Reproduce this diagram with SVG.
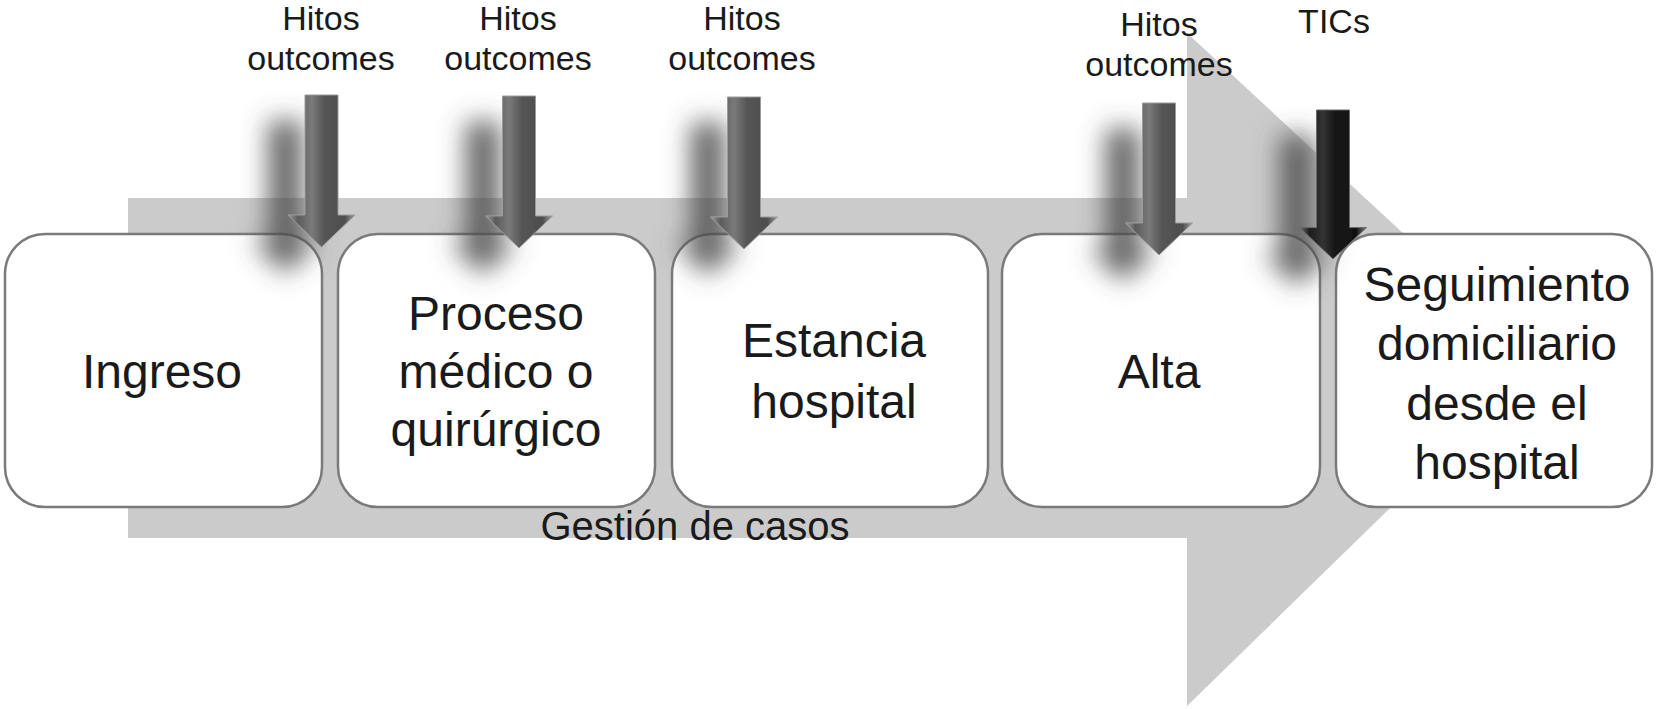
<svg xmlns="http://www.w3.org/2000/svg" width="1658" height="709" viewBox="0 0 1658 709">
<style>
  .box { fill: #ffffff; stroke: #7a7a7a; stroke-width: 2.5; }
  .t { font-family: "Liberation Sans", Arial, sans-serif; fill: #1a1a1a; text-anchor: middle; }
  .big { font-size: 48px; }
  .lbl { font-size: 34px; }
  .gc { font-size: 40px; }
  .ag { stroke: #9a9a9a; stroke-width: 1; }
  .ab { stroke: #6a6a6a; stroke-width: 1; }
</style>
<defs>
  <linearGradient id="gGray" x1="0" y1="0" x2="1" y2="0">
    <stop offset="0" stop-color="#9a9a9a"/>
    <stop offset="0.15" stop-color="#5c5c5c"/>
    <stop offset="0.35" stop-color="#7a7a7a"/>
    <stop offset="0.55" stop-color="#555555"/>
    <stop offset="0.85" stop-color="#4e4e4e"/>
    <stop offset="1" stop-color="#9c9c9c"/>
  </linearGradient>
  <linearGradient id="gBlack" x1="0" y1="0" x2="1" y2="0">
    <stop offset="0" stop-color="#777777"/>
    <stop offset="0.15" stop-color="#1c1c1c"/>
    <stop offset="0.35" stop-color="#333333"/>
    <stop offset="0.55" stop-color="#141414"/>
    <stop offset="0.85" stop-color="#111111"/>
    <stop offset="1" stop-color="#888888"/>
  </linearGradient>
  <filter id="sh" x="-300%" y="-40%" width="600%" height="180%">
    <feGaussianBlur in="SourceAlpha" stdDeviation="13"/>
    <feOffset dx="-36" dy="26" result="b"/>
    <feFlood flood-color="#4a4a4a" flood-opacity="0.85"/>
    <feComposite in2="b" operator="in" result="s"/>
    <feMerge><feMergeNode in="s"/><feMergeNode in="SourceGraphic"/></feMerge>
  </filter>
  <path id="arr" d="M -16.5 0 L 16.5 0 L 16.5 120 L 33.5 120 L 0 152 L -33.5 120 L -16.5 120 Z"/>
</defs>

<g id="background-arrow">
  <path d="M 128 198 L 1187 198 L 1187 33 L 1541 361 L 1187 706 L 1187 538 L 128 538 Z" fill="#cbcbcb"/>
</g>

<g id="node-ingreso">
  <rect class="box" x="5" y="234" width="317" height="273" rx="40" ry="40"/>
  <text class="t big" x="162" y="388">Ingreso</text>
</g>
<g id="node-proceso">
  <rect class="box" x="338" y="234" width="317" height="273" rx="40" ry="40"/>
  <text class="t big" x="496" y="330">Proceso</text>
  <text class="t big" x="496" y="388">médico o</text>
  <text class="t big" x="496" y="446">quirúrgico</text>
</g>
<g id="node-estancia">
  <rect class="box" x="672" y="234" width="316" height="273" rx="40" ry="40"/>
  <text class="t big" x="834" y="357">Estancia</text>
  <text class="t big" x="834" y="418">hospital</text>
</g>
<g id="node-alta">
  <rect class="box" x="1002" y="234" width="318" height="273" rx="40" ry="40"/>
  <text class="t big" x="1159" y="388">Alta</text>
</g>
<g id="node-seguimiento">
  <rect class="box" x="1336" y="234" width="316" height="273" rx="40" ry="40"/>
  <text class="t big" x="1497" y="301">Seguimiento</text>
  <text class="t big" x="1497" y="360">domiciliario</text>
  <text class="t big" x="1497" y="420">desde el</text>
  <text class="t big" x="1497" y="479">hospital</text>
</g>

<g id="label-gestion">
  <text class="t gc" x="695" y="540">Gestión de casos</text>
</g>

<g id="connectors">
  <g filter="url(#sh)">
    <use href="#arr" class="ag" transform="translate(321.5,95)" fill="url(#gGray)"/>
  </g>
  <g filter="url(#sh)">
    <use href="#arr" class="ag" transform="translate(519,96)" fill="url(#gGray)"/>
  </g>
  <g filter="url(#sh)">
    <use href="#arr" class="ag" transform="translate(744,97)" fill="url(#gGray)"/>
  </g>
  <g filter="url(#sh)">
    <use href="#arr" class="ag" transform="translate(1159,103)" fill="url(#gGray)"/>
  </g>
  <g filter="url(#sh)">
    <use href="#arr" class="ab" transform="translate(1333,110) scale(1,0.98)" fill="url(#gBlack)"/>
  </g>
</g>

<g id="labels-top">
  <text class="t lbl" x="321" y="30">Hitos</text>
  <text class="t lbl" x="321" y="70">outcomes</text>
  <text class="t lbl" x="518" y="30">Hitos</text>
  <text class="t lbl" x="518" y="70">outcomes</text>
  <text class="t lbl" x="742" y="30">Hitos</text>
  <text class="t lbl" x="742" y="70">outcomes</text>
  <text class="t lbl" x="1159" y="36">Hitos</text>
  <text class="t lbl" x="1159" y="76">outcomes</text>
  <text class="t lbl" x="1334" y="33">TICs</text>
</g>
</svg>
